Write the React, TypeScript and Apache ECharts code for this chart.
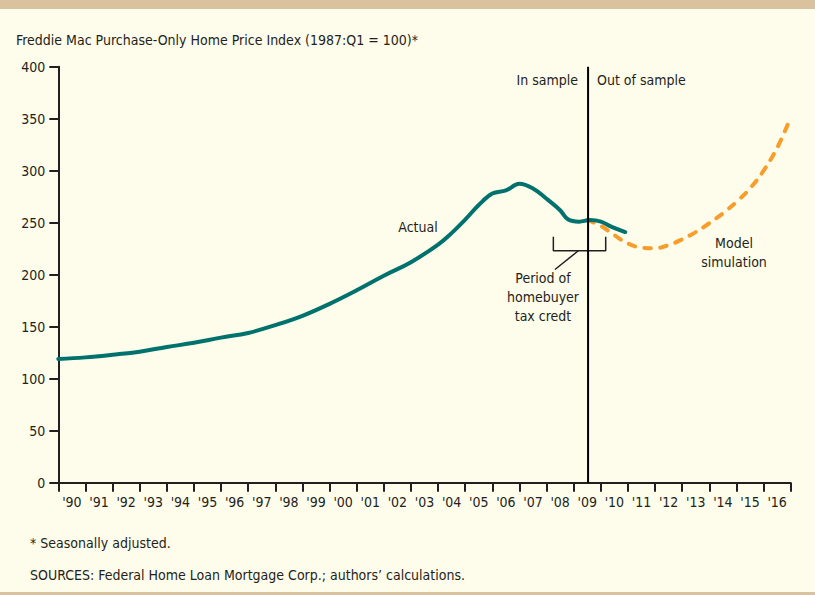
import React, { useEffect, useRef } from "react";
import * as echarts from "echarts";

const yearLabels = ["'90", "'91", "'92", "'93", "'94", "'95", "'96", "'97", "'98", "'99", "'00", "'01", "'02", "'03", "'04", "'05", "'06", "'07", "'08", "'09", "'10", "'11", "'12", "'13", "'14", "'15", "'16"];

const actualYears = [1990.0, 1991.0, 1992.0, 1993.0, 1994.0, 1995.0, 1996.0, 1997.0, 1998.0, 1999.0, 2000.0, 2001.0, 2002.0, 2003.0, 2004.0, 2004.5, 2005.0, 2005.5, 2006.0, 2006.5, 2007.0, 2007.5, 2008.0, 2008.5, 2008.8, 2009.2, 2009.6, 2010.0, 2010.4, 2010.9];
const actualValues = [119, 120.5, 123, 126, 130.5, 134.5, 139.5, 144, 151.5, 160.5, 172, 185, 199, 212, 229, 240, 253, 267, 278, 281, 287.5, 283, 273, 262, 253, 251, 252.5, 251, 246, 241];

const simYears = [2009.5, 2010.0, 2010.5, 2011.0, 2011.5, 2012.0, 2012.5, 2013.0, 2013.5, 2014.0, 2014.5, 2015.0, 2015.5, 2016.0, 2016.5, 2016.9];
const simValues = [252.5, 247, 238, 230, 226, 225.5, 228.5, 234, 241, 249.5, 259, 270, 283, 300, 322, 345];

const sampleSplitYear = 2009.53;
const taxCreditStart = 2008.25;
const taxCreditEnd = 2010.18;
const bracketTop = 236.5;
const bracketBottom = 223;
const leaderEnd: [number, number] = [2008.31, 205];
const leaderStart: [number, number] = [2009.17, 223];

const FONT = "'DejaVu Sans Condensed', 'Liberation Sans Narrow', 'Arial Narrow', sans-serif";
const TEXT = "#231f20";
const TEAL = "#00726d";
const ORANGE = "#f89c2a";
const BG = "#fefcea";
const TAN = "#d9c29d";

export default function App() {
  const ref = useRef<HTMLDivElement>(null);
  useEffect(() => {
    if (!ref.current) return;
    const chart = echarts.init(ref.current, undefined, { renderer: "svg" });
    const txt = (x: number, y: number, text: string, align: string = "left", size = 14) => ({
      type: "text",
      x,
      y,
      style: { text, fill: TEXT, font: `${size}px ${FONT}`, textAlign: align, textVerticalAlign: "middle" },
    });
    chart.setOption({
      animation: false,
      backgroundColor: BG,
      grid: { left: 58.3, right: 24.3, top: 66.7, bottom: 112.3, containLabel: false },
      xAxis: [
        {
          type: "value",
          min: 1990,
          max: 2017,
          interval: 1,
          axisLine: { show: true, onZero: false, lineStyle: { color: TEXT, width: 2 } },
          axisTick: { show: true, length: 9, lineStyle: { color: TEXT, width: 2 } },
          axisLabel: { show: false },
          splitLine: { show: false },
        },
        {
          type: "category",
          data: yearLabels,
          boundaryGap: true,
          position: "bottom",
          axisLine: { show: false },
          axisTick: { show: false },
          axisLabel: { show: true, interval: 0, margin: 12, fontSize: 14, color: TEXT, fontFamily: FONT },
          splitLine: { show: false },
        },
      ],
      yAxis: {
        type: "value",
        min: 0,
        max: 400,
        interval: 50,
        axisLine: { show: true, lineStyle: { color: TEXT, width: 2 } },
        axisTick: { show: true, length: 9, lineStyle: { color: TEXT, width: 2 } },
        axisLabel: { margin: 13, fontSize: 14, color: TEXT, fontFamily: FONT },
        splitLine: { show: false },
      },
      series: [
        {
          type: "line",
          name: "Model simulation",
          data: simYears.map((x, i) => [x, simValues[i]]),
          smooth: 0.4,
          showSymbol: false,
          lineStyle: { color: ORANGE, width: 4, type: [7, 9], cap: "round" },
          z: 2,
        },
        {
          type: "line",
          name: "Actual",
          data: actualYears.map((x, i) => [x, actualValues[i]]),
          smooth: 0.4,
          showSymbol: false,
          lineStyle: { color: TEAL, width: 4, cap: "round" },
          z: 3,
        },
        {
          type: "line",
          name: "bracket",
          data: [
            [taxCreditStart, bracketTop],
            [taxCreditStart, bracketBottom],
            [taxCreditEnd, bracketBottom],
            [taxCreditEnd, bracketTop],
          ],
          showSymbol: false,
          lineStyle: { color: TEXT, width: 1.5 },
          z: 4,
        },
        {
          type: "line",
          name: "leader",
          data: [leaderStart, leaderEnd],
          showSymbol: false,
          lineStyle: { color: TEXT, width: 1.5 },
          z: 4,
        },
        {
          type: "line",
          name: "split",
          data: [
            [sampleSplitYear, 0],
            [sampleSplitYear, 400],
          ],
          showSymbol: false,
          lineStyle: { color: "#000", width: 2 },
          z: 5,
        },
      ],
      graphic: [
        { type: "rect", shape: { x: 0, y: 0, width: 815, height: 9 }, style: { fill: TAN } },
        { type: "rect", shape: { x: 0, y: 592, width: 815, height: 3 }, style: { fill: TAN } },
        txt(16, 40, "Freddie Mac Purchase-Only Home Price Index (1987:Q1 = 100)*", "left"),
        txt(578, 80, "In sample", "right"),
        txt(597, 80, "Out of sample", "left"),
        txt(418, 227, "Actual", "center"),
        txt(734, 243, "Model", "center"),
        txt(734, 262, "simulation", "center"),
        txt(543, 278, "Period of", "center"),
        txt(543, 297, "homebuyer", "center"),
        txt(543, 316, "tax credt", "center"),
        txt(30, 543, "* Seasonally adjusted.", "left"),
        txt(30, 575, "SOURCES: Federal Home Loan Mortgage Corp.; authors\u2019 calculations.", "left"),
      ],
    });
    return () => chart.dispose();
  }, []);
  return <div ref={ref} style={{ position: "fixed", left: 0, top: 0, width: 815, height: 595 }} />;
}
